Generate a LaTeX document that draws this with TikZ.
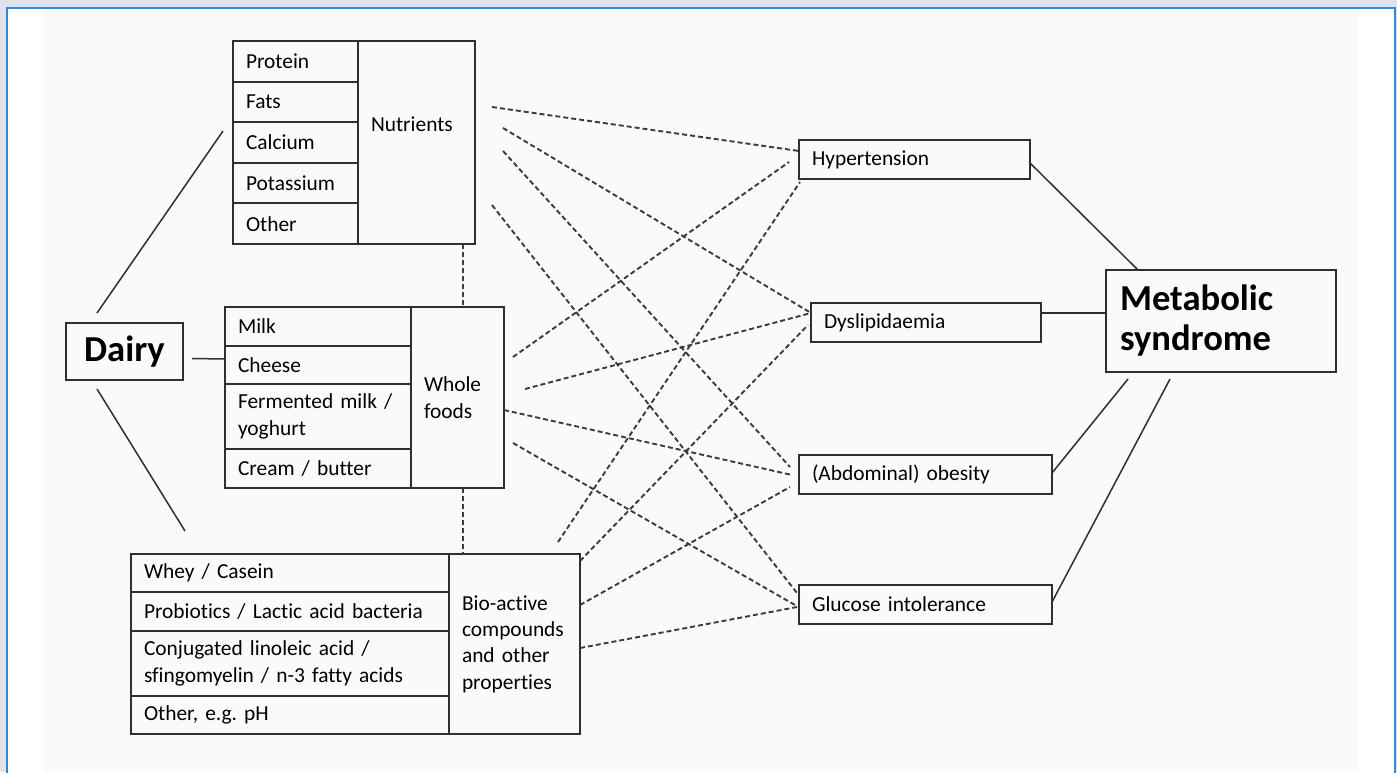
\documentclass[tikz,border=0pt]{standalone}
\usepackage{fontspec}
\setmainfont{Carlito}[Ligatures=NoCommon]
\frenchspacing
\usetikzlibrary{positioning,calc}

\definecolor{ink}{HTML}{332E2E}
\definecolor{dashink}{HTML}{403B3B}
\definecolor{frameblue}{HTML}{3687CF}
\definecolor{outside}{HTML}{DFE3EF}
\definecolor{panel}{HTML}{FAFAFA}

\tikzset{
  cell/.style={draw=ink, line width=1pt, outer sep=0pt, inner xsep=6.5pt, inner ysep=0pt,
    align=left, font=\fontsize{10.7}{13.2}\selectfont},
  ncell/.style={cell, text width=49.5pt, minimum height=20.3pt},
  wcell/.style={cell, text width=80pt},
  bcell/.style={cell, text width=146pt},
  ocell/.style={cell, minimum height=19.5pt, anchor=north west},
  big/.style={font=\bfseries\fontsize{18.3}{20}\selectfont},
  link/.style={draw=ink, line width=0.75pt},
  dep/.style={draw=dashink, line width=0.95pt, dash pattern=on 2.5pt off 1.5pt},
}

\begin{document}
\begin{tikzpicture}[x=0.5pt, y=-0.5pt]
\useasboundingbox (0,0) rectangle (1397,772);
\fill[outside] (0,0) rectangle (1397,772);
\fill[white] (6,7) rectangle (1395,772);
\draw[frameblue, line width=1pt] (6.5,780) -- (6.5,7.5) -- (1394.5,7.5) -- (1394.5,780);
\fill[panel] (43,11) rectangle (1358,772);

\node[ncell, anchor=north west] (prot) at (233,41) {Protein};
\node[ncell, below=0pt of prot] (fats) {Fats};
\node[ncell, below=0pt of fats] (calc) {Calcium};
\node[ncell, below=0pt of calc] (pota) {Potassium};
\node[ncell, below=0pt of pota] (nother) {Other};
\node[cell, text width=45.5pt, minimum height=101.5pt, text depth=18pt, anchor=north west] (ncol) at (prot.north east) {Nutrients};

\node[wcell, minimum height=19.5pt, anchor=north west] (milk) at (225,307) {Milk};
\node[wcell, minimum height=19pt, below=0pt of milk] (cheese) {Cheese};
\node[wcell, minimum height=32.5pt, below=0pt of cheese] (ferm) {Fermented milk /\\ yoghurt};
\node[wcell, minimum height=19.5pt, below=0pt of ferm] (cream) {Cream / butter};
\node[cell, text width=33.5pt, minimum height=90.5pt, anchor=north west] (wcol) at (milk.north east) {Whole\\ foods};

\node[bcell, minimum height=19pt, anchor=north west] (whey) at (131,554) {Whey / Casein};
\node[bcell, minimum height=19.5pt, below=0pt of whey] (probio) {Probiotics / Lactic acid bacteria};
\node[bcell, minimum height=32.5pt, below=0pt of probio] (cla) {Conjugated linoleic acid /\\ sfingomyelin / n-3 fatty acids};
\node[bcell, minimum height=19pt, below=0pt of cla] (bother) {Other, e.g. pH};
\node[cell, text width=52.5pt, minimum height=90pt, anchor=north west] (bcol) at (whey.north east) {Bio-active\\ compounds\\ and other\\ properties};

\node[cell, big, align=center, inner xsep=0pt, minimum width=58.5pt, minimum height=28.5pt] (dairy) at (124.5,351.5) {Dairy};

\node[ocell, text width=102.5pt] (hyp) at (799,140) {Hypertension};
\node[ocell, text width=102pt] (dys) at (811,303) {Dyslipidaemia};
\node[ocell, text width=113.5pt] (abd) at (799,455) {(Abdominal) obesity};
\node[ocell, text width=113.5pt] (glu) at (799,585) {Glucose intolerance};

\node[cell, big, anchor=north west, inner xsep=7pt, text width=101pt, minimum height=51pt] (met) at (1106,270) {Metabolic\\ syndrome};

\draw[link] ($(dairy.north west)+(31,-10)$) -- ($(prot.north west)+(-10,90)$);
\draw[link] ($(dairy.east)+(9,7)$) -- ($(cheese.north west)+(0,13)$);
\draw[link] ($(dairy.south west)+(31,9)$) -- ($(whey.north west)+(54,-23)$);

\draw[link] ($(hyp.north east)+(0,23)$) -- ($(met.north west)+(32,0)$);
\draw[link] ($(dys.north east)+(0,10)$) -- ($(met.north west)+(0,43)$);
\draw[link] ($(abd.north east)+(0,18)$) -- ($(met.south west)+(22,7)$);
\draw[link] ($(glu.north east)+(0,17)$) -- ($(met.south west)+(64,7)$);

\draw[dep] ($(ncol.south east)+(-12,0)$) -- ($(wcol.north east)+(-41,0)$);
\draw[dep] ($(wcol.south east)+(-41,0)$) -- ($(bcol.north west)+(14,0)$);

\draw[dep] ($(ncol.north east)+(17,66)$) -- ($(hyp.north west)+(0,11)$);
\draw[dep] ($(ncol.north east)+(28,87)$) -- ($(dys.north west)+(0,10)$);
\draw[dep] ($(ncol.north east)+(28,110)$) -- ($(abd.north west)+(-9,12)$);
\draw[dep] ($(ncol.north east)+(17,164)$) -- ($(glu.north west)+(-2,8)$);

\draw[dep] ($(wcol.north east)+(9,50)$) -- ($(hyp.north west)+(-10,22)$);
\draw[dep] ($(wcol.north east)+(21,82)$) -- ($(dys.north west)+(0,10)$);
\draw[dep] ($(wcol.north east)+(0,103)$) -- ($(abd.north west)+(-7,20)$);
\draw[dep] ($(wcol.north east)+(9,136)$) -- ($(glu.north west)+(-4,20)$);

\draw[dep] ($(bcol.north east)+(-22,-12)$) -- ($(hyp.south west)+(1,3)$);
\draw[dep] ($(bcol.north east)+(0,7)$) -- ($(dys.north west)+(-3,22)$);
\draw[dep] ($(bcol.north east)+(0,51)$) -- ($(abd.north west)+(-9,32)$);
\draw[dep] ($(bcol.north east)+(0,94)$) -- ($(glu.north west)+(-2,22)$);
\end{tikzpicture}
\end{document}
